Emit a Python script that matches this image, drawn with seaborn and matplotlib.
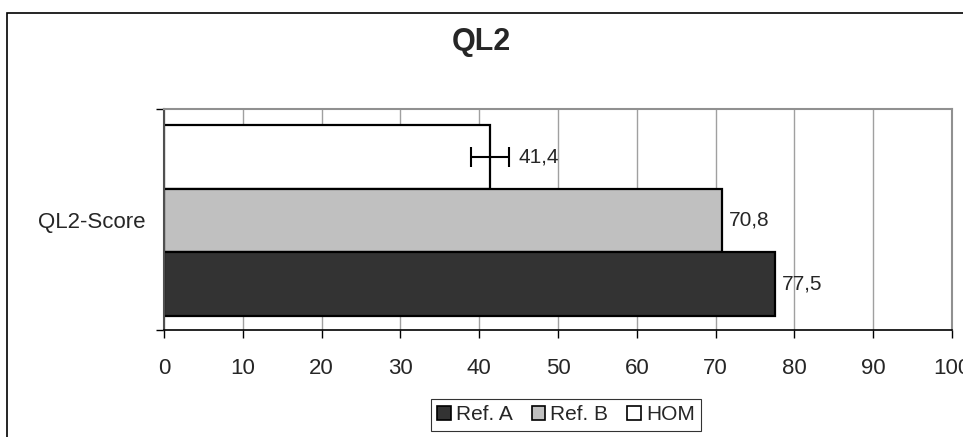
import matplotlib
matplotlib.use("Agg")
import matplotlib.pyplot as plt
import matplotlib.patches as mpatches
import seaborn as sns
import pandas as pd

# data
groups = ["Ref. A", "Ref. B", "HOM"]
scores = [77.5, 70.8, 41.4]
errors = [0.0, 0.0, 2.4]
colors = {"Ref. A": "#333333", "Ref. B": "#c0c0c0", "HOM": "#ffffff"}
category = "QL2-Score"

df = pd.DataFrame({"group": groups, "score": scores, "err": errors, "cat": category})

sns.set_theme(style="white")
plt.rcParams["font.family"] = ["Liberation Sans", "DejaVu Sans"]

fig = plt.figure(figsize=(9.63, 4.37), dpi=100)
ax = fig.add_axes([164 / 963, 1 - 330 / 437, (952 - 164) / 963, (330 - 109) / 437])

# top to bottom: HOM, Ref. B, Ref. A
order = ["HOM", "Ref. B", "Ref. A"]
sns.barplot(data=df, x="score", y="cat", hue="group", hue_order=order,
            palette=colors, orient="h", width=0.8, edgecolor="black",
            linewidth=1.6, legend=False, ax=ax)

# error bar + value labels
for cont, g in zip(ax.containers, order):
    row = df[df.group == g].iloc[0]
    bar = cont.patches[0]
    yc = bar.get_y() + bar.get_height() / 2
    end = row.score
    if row.err > 0:
        ax.errorbar(row.score, yc, xerr=row.err, fmt="none", ecolor="black",
                    elinewidth=1.5, capsize=7, capthick=1.5)
        end = row.score + row.err
    ax.annotate(f"{row.score:.1f}".replace(".", ","), xy=(end, yc),
                xytext=(7 if row.err > 0 else 5, 0), textcoords="offset points",
                va="center", ha="left", fontsize=15)

ax.set_xlim(0, 100)
ax.set_xticks(range(0, 101, 10))
ax.set_ylim(0.459, -0.467)
ax.set_yticks([0])
ax.set_yticklabels([category])
ax.set_yticks([0.459, -0.467], minor=True)
ax.set_xlabel("")
ax.set_ylabel("")
ax.xaxis.grid(True, color="#a0a0a0", linewidth=1)
ax.set_axisbelow(True)

ax.tick_params(axis="x", direction="out", length=6, width=1, color="black",
               pad=14, labelsize=16, bottom=True)
ax.tick_params(axis="y", which="major", length=0, pad=13, labelsize=16)
ax.tick_params(axis="y", which="minor", direction="out", length=6, width=1,
               color="black", left=True)

for side in ["top", "right"]:
    ax.spines[side].set_color("#909090")
    ax.spines[side].set_linewidth(1.5)
ax.spines["left"].set_color("#505050")
ax.spines["left"].set_linewidth(1.5)
ax.spines["bottom"].set_color("black")
ax.spines["bottom"].set_linewidth(1.2)

fig.text(0.5, 1 - 42 / 437, "QL2", ha="center", va="center",
         fontsize=22, fontweight="bold")

handles = [mpatches.Patch(facecolor=colors[g], edgecolor="black", linewidth=1.2, label=g)
           for g in groups]
leg = fig.legend(handles=handles, loc="center", bbox_to_anchor=(566 / 963, 1 - 415 / 437),
                 ncol=3, fontsize=15, frameon=True, fancybox=False,
                 handlelength=0.65, handleheight=0.65, handletextpad=0.25,
                 columnspacing=0.9, borderpad=0.3, borderaxespad=0)
leg.get_frame().set_edgecolor("black")
leg.get_frame().set_linewidth(0.8)

# outer chart border (only top and left visible)
fig.patches.append(mpatches.Rectangle((7 / 963, -0.1), 1.2, 1 - 13 / 437 + 0.1,
                                      transform=fig.transFigure, fill=False,
                                      edgecolor="black", linewidth=1.2))

fig.savefig("out.png", dpi=100)
